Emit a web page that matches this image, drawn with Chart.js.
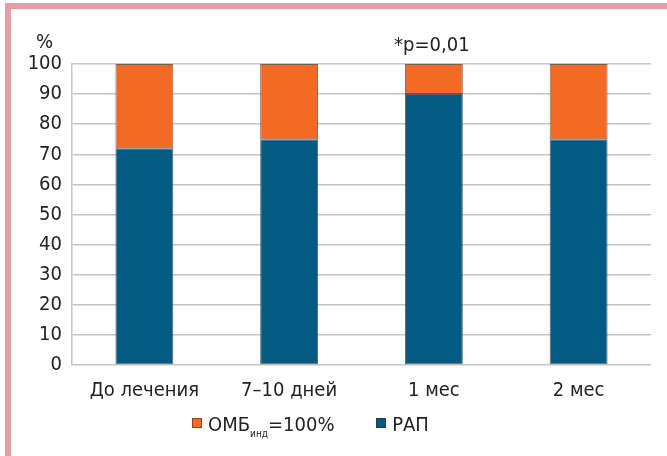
<!DOCTYPE html>
<html>
<head>
<meta charset="utf-8">
<script src="https://cdn.jsdelivr.net/npm/chart.js@4"></script>
<style>
  html, body { margin: 0; padding: 0; background: #fff; }
  #wrap { position: relative; width: 667px; height: 456px; overflow: hidden; }
  #frame { position: absolute; left: 5px; top: 3px; right: 0; bottom: 0;
           border-top: 6px solid #e79ca8; border-left: 6px solid #e79ca8; }
  canvas { position: absolute; left: 0; top: 0; }
  .txt { position: absolute; font-family: "DejaVu Sans Condensed", "Liberation Sans", sans-serif;
         font-size: 20px; color: #222; white-space: nowrap; line-height: 1; }
  #legend { position: absolute; top: 414px; left: 192px; }
  .item { display: inline-block; }
  .sw { display: inline-block; width: 8px; height: 8px; margin-right: 6px; vertical-align: 3px; border: 1px solid rgba(60,40,30,0.55); }
  sub { font-size: 10px; vertical-align: -6px; }
</style>
</head>
<body>
<div id="wrap">
  <div id="frame"></div>
  <canvas id="c" width="667" height="456"></canvas>
  <div class="txt" style="left:36px; top:31px;">%</div>
  <div class="txt" id="legend">
    <span class="item" style="margin-right:36px;"><span class="sw" style="background:#f26a26"></span>ОМБ<sub>инд</sub>=100%</span>
    <span class="item"><span class="sw" style="background:#035a83"></span>РАП</span>
  </div>
</div>
<script>
// Periods of observation
const categories = ['До лечения', '7–10 дней', '1 мес', '2 мес'];
// Share of patients, %
const rapValues = [72, 75, 90, 75];
const ombValues = [28, 25, 10, 25];
// Annotation above the third bar
const noteText = '*p=0,01';
const noteIndex = 2;

const FONT = '"DejaVu Sans Condensed", "Liberation Sans", sans-serif';

const notePlugin = {
  id: 'note',
  afterDatasetsDraw(chart) {
    const { ctx, scales } = chart;
    const x = scales.x.getPixelForValue(noteIndex);
    const y = scales.y.getPixelForValue(100);
    ctx.save();
    ctx.font = '20px ' + FONT;
    ctx.fillStyle = '#222';
    ctx.textAlign = 'center';
    ctx.textBaseline = 'bottom';
    ctx.fillText(noteText, x - 2, y - 8);
    ctx.restore();
  }
};

new Chart(document.getElementById('c'), {
  type: 'bar',
  data: {
    labels: categories,
    datasets: [
      { label: 'РАП', data: rapValues, backgroundColor: '#035a83',
        borderColor: 'rgba(25,35,45,0.7)', borderWidth: 1, borderSkipped: false },
      { label: 'ОМБ инд =100%', data: ombValues, backgroundColor: '#f26a26',
        borderColor: 'rgba(70,40,20,0.7)', borderWidth: 1, borderSkipped: false }
    ]
  },
  options: {
    responsive: false,
    animation: false,
    devicePixelRatio: 1,
    layout: { padding: { left: 0, top: 64, right: 16, bottom: 51 } },
    plugins: { legend: { display: false }, tooltip: { enabled: false } },
    datasets: { bar: { categoryPercentage: 1, barPercentage: 0.4 } },
    scales: {
      x: {
        stacked: true,
        grid: { display: false, drawTicks: false },
        border: { display: false },
        ticks: { padding: 14, color: '#222', font: { family: FONT, size: 20 } },
        afterFit(s) { s.height = 40; }
      },
      y: {
        stacked: true,
        min: 0, max: 100,
        ticks: { stepSize: 10, padding: 10, color: '#222', font: { family: FONT, size: 20 } },
        grid: { color: '#c4c4c4', lineWidth: 1.5, drawTicks: false },
        border: { display: true, color: '#c4c4c4', width: 1.5 },
        afterFit(s) { s.width = 72; }
      }
    }
  },
  plugins: [notePlugin]
});
</script>
</body>
</html>
